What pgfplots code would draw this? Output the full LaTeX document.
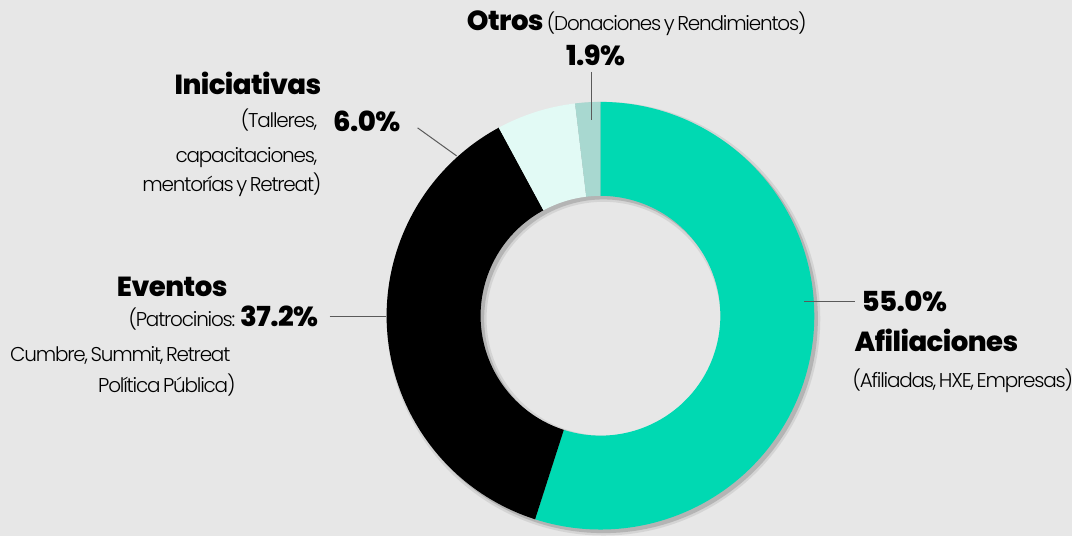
\documentclass[border=0pt]{standalone}
\usepackage{pgfplots}
\pgfplotsset{compat=1.18}
\usepackage{pgfplotstable}
\usepackage{fontspec}
\setmainfont{Poppins}
\newfontfamily\heavy[LetterSpace=-2]{Poppins ExtraBold}
\newfontfamily\light[LetterSpace=-6, WordSpace=0.6]{Poppins Light}

\definecolor{bg}{RGB}{231,231,231}
\definecolor{afil}{RGB}{0,217,178}
\definecolor{even}{RGB}{0,0,0}
\definecolor{inic}{RGB}{226,250,245}
\definecolor{otros}{RGB}{168,216,208}
\definecolor{leader}{RGB}{90,90,90}

\newcommand{\bigtxt}[1]{{\heavy\fontsize{13.8}{15}\selectfont #1}}
\newcommand{\smalltxt}[1]{{\light\fontsize{10}{11}\selectfont #1}}

% share of income, in percent
\pgfplotstableread{
slice value
Afiliaciones 55.0
Eventos 37.2
Iniciativas 6.0
Otros 1.9
}\slices

\begin{document}
\begin{tikzpicture}
  \pgfplotstablegetelem{0}{value}\of\slices \let\vA\pgfplotsretval
  \pgfplotstablegetelem{1}{value}\of\slices \let\vB\pgfplotsretval
  \pgfplotstablegetelem{2}{value}\of\slices \let\vC\pgfplotsretval
  \pgfplotstablegetelem{3}{value}\of\slices \let\vD\pgfplotsretval
  \pgfmathsetmacro\tot{\vA+\vB+\vC+\vD}
  % clockwise from 12 o'clock
  \pgfmathsetmacro\aA{90}
  \pgfmathsetmacro\aB{\aA-360*(\vA/\tot)}
  \pgfmathsetmacro\aC{\aB-360*(\vB/\tot)}
  \pgfmathsetmacro\aD{\aC-360*(\vC/\tot)}
  \pgfmathsetmacro\aE{\aD-360*(\vD/\tot)}
  \def\Ro{107pt}
  \def\Ri{60pt}
  \begin{axis}[
    x=0.5pt, y=0.5pt,
    xmin=0, xmax=1073, ymin=0, ymax=536,
    hide axis, scale only axis, clip=false,
  ]
    \fill[bg] (axis cs:0,0) rectangle (axis cs:1073,536);
    \coordinate (c) at (axis cs:601,220);
    \coordinate (s) at (axis cs:604,217);
    % soft shadow
    \fill[black, opacity=0.08, even odd rule] (s) circle[radius=108.5pt] (s) circle[radius=58.5pt];
    \fill[black, opacity=0.15, even odd rule] (s) circle[radius=107.3pt] (s) circle[radius=59.7pt];
    % slices
    \fill[afil] ([shift={(\aA:\Ro)}]c) arc[start angle=\aA, end angle=\aB, radius=\Ro]
      -- ([shift={(\aB:\Ri)}]c) arc[start angle=\aB, end angle=\aA, radius=\Ri] -- cycle;
    \fill[even] ([shift={(\aB:\Ro)}]c) arc[start angle=\aB, end angle=\aC, radius=\Ro]
      -- ([shift={(\aC:\Ri)}]c) arc[start angle=\aC, end angle=\aB, radius=\Ri] -- cycle;
    \fill[inic] ([shift={(\aC:\Ro)}]c) arc[start angle=\aC, end angle=\aD, radius=\Ro]
      -- ([shift={(\aD:\Ri)}]c) arc[start angle=\aD, end angle=\aC, radius=\Ri] -- cycle;
    \fill[otros] ([shift={(\aD:\Ro)}]c) arc[start angle=\aD, end angle=\aE, radius=\Ro]
      -- ([shift={(\aE:\Ri)}]c) arc[start angle=\aE, end angle=\aD, radius=\Ri] -- cycle;

    % leader lines
    \draw[leader, line width=0.5pt] (axis cs:592,464) -- (axis cs:592,416);
    \draw[leader, line width=0.5pt] (axis cs:418,408) -- (axis cs:457,380);
    \draw[leader, line width=0.5pt] (axis cs:330,219) -- (axis cs:386,219);
    \draw[leader, line width=0.5pt] (axis cs:805,234) -- (axis cs:856,234);

    % Otros
    \node[anchor=base west, inner sep=0] at (axis cs:467,505) {\bigtxt{Otros}\,\smalltxt{(Donaciones y Rendimientos)}};
    \node[anchor=base, inner sep=0] at (axis cs:596,470) {\bigtxt{1.9\%}};
    % Iniciativas
    \node[anchor=base east, inner sep=0] at (axis cs:322,441) {\bigtxt{Iniciativas}};
    \node[anchor=base east, inner sep=0] at (axis cs:318,408) {\smalltxt{(Talleres,}};
    \node[anchor=base east, inner sep=0] at (axis cs:318,373) {\smalltxt{capacitaciones,}};
    \node[anchor=base east, inner sep=0] at (axis cs:322,344) {\smalltxt{mentorías y Retreat)}};
    \node[anchor=base west, inner sep=0] at (axis cs:333,404) {\bigtxt{6.0\%}};
    % Eventos
    \node[anchor=base east, inner sep=0] at (axis cs:228,239) {\bigtxt{Eventos}};
    \node[anchor=base east, inner sep=0] at (axis cs:236,209) {\smalltxt{(Patrocinios:}};
    \node[anchor=base west, inner sep=0] at (axis cs:240,209) {\bigtxt{37.2\%}};
    \node[anchor=base east, inner sep=0] at (axis cs:231,174) {\smalltxt{Cumbre, Summit, Retreat}};
    \node[anchor=base east, inner sep=0] at (axis cs:236,143) {\smalltxt{Política Pública)}};
    % Afiliaciones
    \node[anchor=base west, inner sep=0] at (axis cs:862,224) {\bigtxt{55.0\%}};
    \node[anchor=base west, inner sep=0] at (axis cs:855,184) {\bigtxt{Afiliaciones}};
    \node[anchor=base west, inner sep=0] at (axis cs:853,148) {\smalltxt{(Afiliadas, HXE, Empresas)}};
  \end{axis}
\end{tikzpicture}
\end{document}
